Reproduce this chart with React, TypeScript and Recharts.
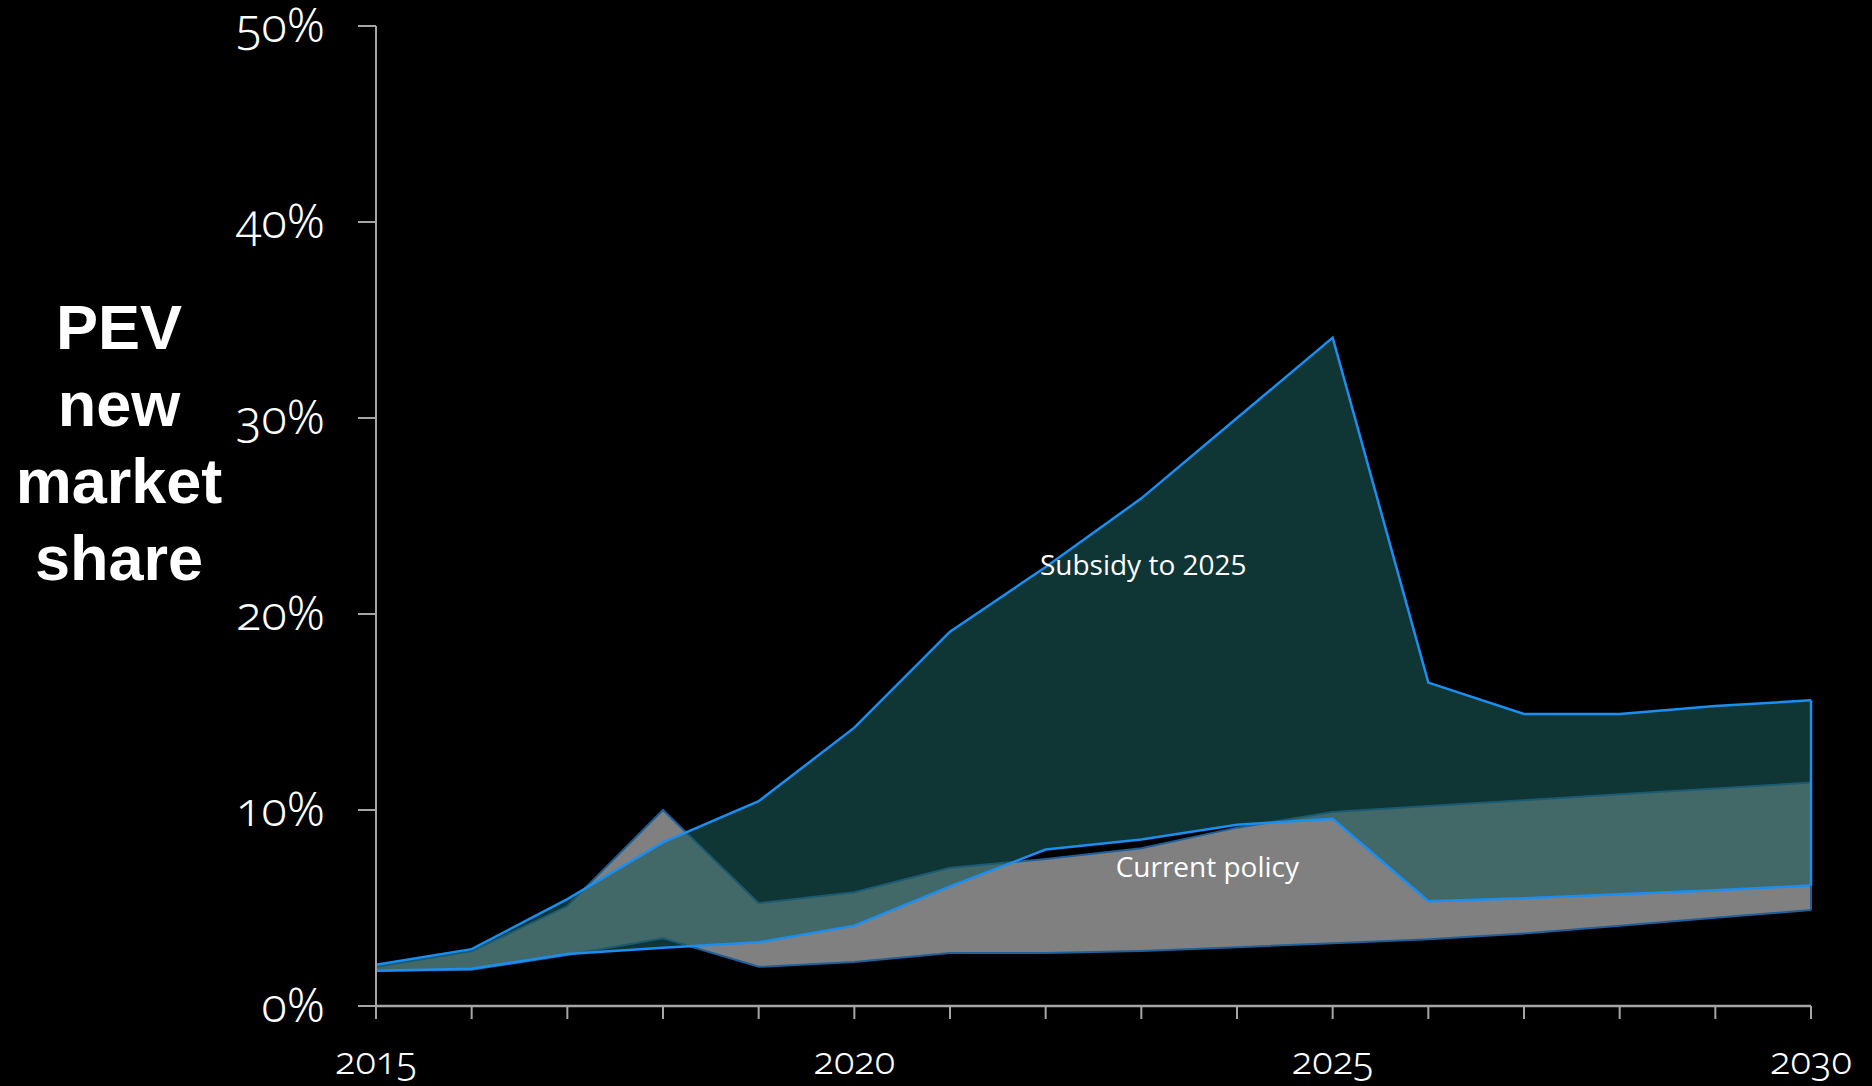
import React from 'react';
import { ComposedChart, Area, XAxis, YAxis, ReferenceLine, ReferenceDot } from 'recharts';

const years = [2015, 2016, 2017, 2018, 2019, 2020, 2021, 2022, 2023, 2024, 2025, 2026, 2027, 2028, 2029, 2030];
const currentLow = [1.8, 1.85, 2.6, 3.45, 2.0, 2.25, 2.7, 2.7, 2.8, 3.0, 3.2, 3.4, 3.7, 4.1, 4.5, 4.9];
const currentHigh = [2.0, 2.8, 5.1, 10.0, 5.25, 5.8, 7.05, 7.5, 8.05, 9.1, 9.9, 10.2, 10.5, 10.8, 11.1, 11.4];
const subsidyLow = [1.8, 1.9, 2.65, 2.97, 3.25, 4.1, 6.1, 7.98, 8.5, 9.25, 9.55, 5.35, 5.5, 5.7, 5.9, 6.15];
const subsidyHigh = [2.1, 2.9, 5.45, 8.35, 10.45, 14.2, 19.1, 22.4, 25.9, 30.0, 34.1, 16.5, 14.9, 14.9, 15.3, 15.6];

const yTicks = [0, 10, 20, 30, 40, 50];
const xLabelYears = [2015, 2020, 2025, 2030];
const yAxisTitle = ['PEV', 'new', 'market', 'share'];
const subsidyLabel = { text: 'Subsidy to 2025', year: 2023.02, value: 22.5 };
const currentLabel = { text: 'Current policy', year: 2023.69, value: 7.1 };

const data = years.map((year, i) => ({
  year,
  current: [currentLow[i], currentHigh[i]],
  subsidy: [subsidyLow[i], subsidyHigh[i]],
}));

const last = years.length - 1;

const tickFont = {
  fontFamily: '"Noto Sans", "Open Sans", sans-serif',
  fontWeight: 300,
  fill: '#ffffff',
  style: { fontFeatureSettings: '"onum"' } as React.CSSProperties,
};

const YTick = (props: any) => {
  const { x, y, payload } = props;
  return (
    <text x={x} y={y} dy="0.35em" textAnchor="end" fontSize={47} {...tickFont}>
      {payload.value}%
    </text>
  );
};

const XTick = (props: any) => {
  const { x, y, payload } = props;
  if (!xLabelYears.includes(payload.value)) return <g />;
  return (
    <text x={x} y={y} dy="0.71em" textAnchor="middle" fontSize={38} {...tickFont}>
      {payload.value}
    </text>
  );
};

const AnnLabel = (text: string) => (props: any) => {
  const vb = props.viewBox || {};
  const cx = (vb.x ?? 0) + (vb.width ?? 0) / 2;
  const cy = (vb.y ?? 0) + (vb.height ?? 0) / 2;
  return (
    <text x={cx} y={cy} dy="0.35em" textAnchor="middle" fill="#ffffff" fontSize={28}
      fontFamily='"Open Sans", "Noto Sans", sans-serif'>
      {text}
    </text>
  );
};

export default function App() {
  return (
    <div style={{ position: 'absolute', left: 0, top: 0, width: 1872, height: 1086, background: '#000', overflow: 'hidden' }}>
      <div
        style={{
          position: 'absolute',
          left: 0,
          top: 289,
          width: 238,
          textAlign: 'center',
          color: '#fff',
          fontFamily: '"Liberation Sans", Arial, sans-serif',
          fontWeight: 700,
          fontSize: 63,
          lineHeight: '77px',
        }}
      >
        {yAxisTitle.map((w) => (
          <div key={w}>{w}</div>
        ))}
      </div>
      <ComposedChart
        width={1872}
        height={1086}
        data={data}
        margin={{ top: 26, right: 61, bottom: 0, left: 0 }}
        style={{ position: 'absolute', left: 0, top: 0 }}
      >
        <XAxis
          dataKey="year"
          type="number"
          domain={[2015, 2030]}
          ticks={years}
          interval={0}
          tick={<XTick />}
          tickSize={13}
          tickMargin={28}
          height={80}
          stroke="#a6a6a6"
          strokeWidth={2.5}
          tickLine={{ stroke: '#a6a6a6', strokeWidth: 2 }}
        />
        <YAxis
          type="number"
          domain={[0, 50]}
          ticks={yTicks}
          interval={0}
          width={376}
          tick={<YTick />}
          tickSize={18}
          tickMargin={33}
          stroke="#a6a6a6"
          strokeWidth={2}
          tickLine={{ stroke: '#a6a6a6', strokeWidth: 2 }}
        />
        <Area
          type="linear"
          dataKey="current"
          fill="#808080"
          fillOpacity={1}
          stroke="#1f5f9a"
          strokeWidth={2}
          isAnimationActive={false}
          dot={false}
          activeDot={false}
        />
        <ReferenceLine
          segment={[{ x: years[last], y: currentLow[last] }, { x: years[last], y: currentHigh[last] }]}
          stroke="#1f5f9a"
          strokeWidth={2}
        />
        <Area
          type="linear"
          dataKey="subsidy"
          fill="#195959"
          fillOpacity={0.6}
          stroke="#1b8ef2"
          strokeWidth={2.5}
          isAnimationActive={false}
          dot={false}
          activeDot={false}
        />
        <ReferenceLine
          segment={[{ x: years[last], y: subsidyLow[last] }, { x: years[last], y: subsidyHigh[last] }]}
          stroke="#1b8ef2"
          strokeWidth={2.5}
        />
        <ReferenceDot
          x={subsidyLabel.year}
          y={subsidyLabel.value}
          r={0}
          fill="none"
          stroke="none"
          label={AnnLabel(subsidyLabel.text)}
        />
        <ReferenceDot
          x={currentLabel.year}
          y={currentLabel.value}
          r={0}
          fill="none"
          stroke="none"
          label={AnnLabel(currentLabel.text)}
        />
      </ComposedChart>
    </div>
  );
}
